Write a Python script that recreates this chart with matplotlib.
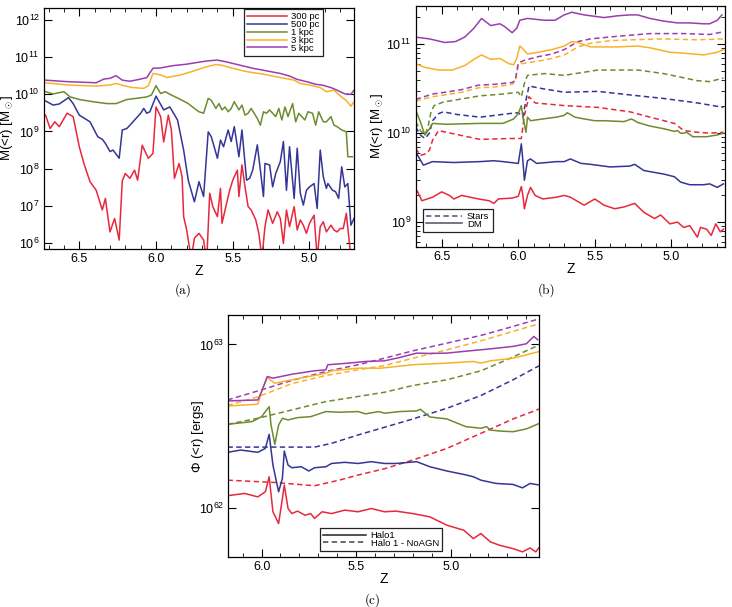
import numpy as np
import matplotlib
matplotlib.use('Agg')
import matplotlib.pyplot as plt
from matplotlib.ticker import MultipleLocator, FormatStrFormatter, LogLocator, NullLocator, LogFormatterMathtext
from matplotlib.lines import Line2D

plt.rcParams['font.family'] = ['Liberation Sans', 'DejaVu Sans']
plt.rcParams['mathtext.fontset'] = 'custom'
plt.rcParams['mathtext.rm'] = 'Liberation Sans'
plt.rcParams['mathtext.it'] = 'Liberation Sans:italic'
plt.rcParams['axes.linewidth'] = 0.9

RED = '#e8283c'
BLUE = '#353597'
GREEN = '#6e8b2e'
ORANGE = '#f8b22a'
PURPLE = '#9b3db0'
DASH = (0, (3.5, 2.2))
LW = 1.1

# ---------------- panel (a): log10 M(<r) vs z ----------------
a_z_5k = [6.72, 6.58, 6.39, 6.34, 6.30, 6.26, 6.22, 6.17, 6.10, 6.06, 6.02, 5.97, 5.89, 5.80, 5.71, 5.66,
          5.60, 5.54, 5.45, 5.37, 5.28, 5.19, 5.13, 5.08, 5.02, 4.96, 4.91, 4.86, 4.82, 4.77, 4.73, 4.71]
a_lm_5k = [10.38, 10.34, 10.31, 10.41, 10.43, 10.50, 10.38, 10.35, 10.41, 10.45, 10.70, 10.71, 10.77, 10.81,
           10.87, 10.90, 10.92, 10.87, 10.78, 10.70, 10.63, 10.56, 10.49, 10.40, 10.34, 10.27, 10.24, 10.18,
           10.11, 10.01, 10.00, 10.11]

a_z_3k = [6.72, 6.58, 6.39, 6.30, 6.26, 6.21, 6.15, 6.08, 6.05, 6.02, 5.97, 5.93, 5.84, 5.76, 5.67, 5.61,
          5.57, 5.50, 5.41, 5.30, 5.19, 5.10, 5.06, 5.00, 4.93, 4.89, 4.84, 4.80, 4.76, 4.73, 4.71]
a_lm_3k = [10.31, 10.25, 10.22, 10.25, 10.29, 10.23, 10.18, 10.16, 10.23, 10.56, 10.52, 10.45, 10.52, 10.62,
           10.74, 10.80, 10.78, 10.70, 10.61, 10.54, 10.45, 10.38, 10.29, 10.25, 10.18, 10.07, 10.11, 9.96,
           9.83, 9.68, 9.80]

a_z_1k = [6.72, 6.67, 6.60, 6.56, 6.50, 6.41, 6.32, 6.26, 6.19, 6.13, 6.06, 6.03, 6.00, 5.97, 5.94, 5.90,
          5.84, 5.79, 5.75, 5.72, 5.69, 5.66, 5.64, 5.61, 5.59, 5.57, 5.55, 5.53, 5.51, 5.49, 5.46, 5.44,
          5.42, 5.40, 5.38, 5.34, 5.32, 5.30, 5.28, 5.26, 5.22, 5.20, 5.18, 5.16, 5.14, 5.11, 5.09, 5.07,
          5.05, 5.03, 5.01, 4.98, 4.96, 4.94, 4.91, 4.89, 4.86, 4.84, 4.82, 4.79, 4.76, 4.75, 4.72]
a_lm_1k = [10.07, 10.01, 10.07, 9.93, 9.86, 9.80, 9.75, 9.75, 9.86, 9.89, 9.93, 9.98, 10.23, 10.02, 10.07,
           9.98, 9.86, 9.75, 9.62, 9.53, 9.49, 9.89, 9.84, 9.62, 9.75, 9.58, 9.66, 9.53, 9.62, 9.80, 9.58,
           9.71, 9.44, 9.49, 9.62, 9.35, 9.17, 9.53, 9.49, 9.58, 9.40, 9.62, 9.31, 9.66, 9.40, 9.75, 9.26,
           9.49, 9.40, 9.31, 9.53, 9.49, 9.17, 9.53, 9.26, 9.26, 9.40, 9.17, 9.13, 9.04, 8.99, 8.32, 8.32]

a_z_500 = [6.72, 6.67, 6.63, 6.57, 6.54, 6.50, 6.43, 6.38, 6.35, 6.33, 6.30, 6.28, 6.24, 6.22, 6.19, 6.15,
           6.10, 6.08, 6.06, 6.04, 6.00, 5.95, 5.91, 5.86, 5.82, 5.79, 5.75, 5.72, 5.69, 5.66, 5.64, 5.60,
           5.58, 5.56, 5.53, 5.51, 5.49, 5.46, 5.44, 5.41, 5.39, 5.37, 5.34, 5.32, 5.30, 5.29, 5.26, 5.24,
           5.22, 5.19, 5.17, 5.15, 5.13, 5.10, 5.08, 5.06, 5.04, 5.02, 5.00, 4.97, 4.95, 4.93, 4.91, 4.89,
           4.88, 4.85, 4.83, 4.81, 4.79, 4.77, 4.75, 4.73, 4.71]
a_lm_500 = [9.82, 9.71, 9.74, 9.91, 9.75, 9.44, 9.26, 8.86, 8.79, 8.68, 8.46, 8.50, 8.28, 9.04, 9.08, 9.26,
            9.49, 9.62, 9.49, 9.53, 9.95, 9.58, 9.66, 9.31, 8.50, 7.69, 7.11, 7.65, 7.25, 8.99, 8.86, 8.28,
            8.77, 8.59, 9.04, 8.73, 9.13, 8.32, 9.04, 7.69, 7.74, 7.96, 8.64, 7.96, 7.25, 8.14, 8.10, 7.51,
            7.87, 8.19, 8.73, 7.42, 8.59, 7.20, 8.55, 7.34, 7.02, 7.42, 7.51, 7.60, 6.93, 8.50, 7.78, 7.47,
            7.60, 7.42, 7.38, 7.20, 8.05, 7.51, 7.60, 6.48, 6.66]

a_z_300 = [6.72, 6.69, 6.66, 6.63, 6.58, 6.54, 6.50, 6.47, 6.43, 6.39, 6.35, 6.33, 6.30, 6.27, 6.24, 6.22,
           6.20, 6.17, 6.14, 6.12, 6.09, 6.05, 6.02, 6.00, 5.97, 5.95, 5.92, 5.90, 5.88, 5.85, 5.83, 5.82,
           5.80, 5.79, 5.77, 5.75, 5.72, 5.69, 5.67, 5.65, 5.63, 5.60, 5.58, 5.57, 5.54, 5.52, 5.50, 5.47,
           5.46, 5.44, 5.42, 5.40, 5.38, 5.35, 5.33, 5.31, 5.29, 5.27, 5.24, 5.21, 5.19, 5.17, 5.15, 5.13,
           5.10, 5.08, 5.06, 5.04, 5.02, 5.00, 4.97, 4.95, 4.93, 4.91, 4.89, 4.86, 4.84, 4.82, 4.80, 4.78,
           4.76, 4.73]
a_lm_300 = [9.44, 9.08, 9.26, 9.13, 9.49, 9.40, 8.59, 8.14, 7.65, 7.42, 6.89, 7.20, 6.30, 6.66, 6.08, 7.67,
            7.87, 7.74, 7.96, 7.69, 8.63, 8.28, 8.41, 9.66, 9.40, 8.72, 9.44, 9.04, 7.74, 8.14, 7.78, 6.71,
            6.35, 6.08, 5.60, 6.13, 6.26, 6.08, 5.50, 7.34, 6.98, 6.71, 7.47, 6.53, 7.07, 7.42, 7.69, 7.96,
            7.25, 8.10, 7.51, 6.98, 6.89, 6.62, 6.26, 5.60, 6.44, 6.89, 6.53, 6.84, 6.66, 5.99, 6.89, 6.44,
            6.98, 6.35, 6.62, 6.48, 6.26, 6.53, 6.75, 5.60, 6.44, 6.57, 6.30, 6.48, 6.35, 6.30, 6.39, 6.39,
            6.80, 5.60]

# ---------------- panel (b): log10 M(<r), DM (solid) and stars (dashed) ----------------
b_z_5k_dm = [6.67, 6.58, 6.48, 6.41, 6.35, 6.29, 6.24, 6.18, 6.12, 6.09, 6.04, 6.01, 5.99, 5.94, 5.83, 5.76,
             5.70, 5.65, 5.57, 5.44, 5.35, 5.27, 5.22, 5.14, 5.05, 4.96, 4.88, 4.79, 4.75, 4.70, 4.67]
b_lm_5k_dm = [11.08, 11.06, 11.02, 11.03, 11.08, 11.18, 11.29, 11.21, 11.23, 11.20, 11.13, 11.18, 11.27,
              11.29, 11.27, 11.27, 11.33, 11.36, 11.33, 11.30, 11.32, 11.33, 11.33, 11.29, 11.26, 11.24,
              11.24, 11.23, 11.23, 11.27, 11.33]

b_z_3k_dm = [6.67, 6.61, 6.52, 6.43, 6.35, 6.29, 6.24, 6.18, 6.12, 6.06, 6.03, 6.01, 5.99, 5.97, 5.94, 5.87,
             5.78, 5.70, 5.65, 5.61, 5.53, 5.44, 5.35, 5.22, 5.14, 5.01, 4.92, 4.79, 4.70, 4.66]
b_lm_3k_dm = [10.78, 10.74, 10.71, 10.71, 10.76, 10.83, 10.88, 10.83, 10.84, 10.78, 10.77, 10.84, 10.98,
              10.95, 10.89, 10.91, 10.94, 10.98, 11.03, 11.02, 10.97, 10.97, 10.97, 10.98, 10.96, 10.91,
              10.90, 10.88, 10.91, 10.94]

b_z_3k_st = [6.67, 6.56, 6.48, 6.37, 6.26, 6.15, 6.04, 6.02, 6.00, 5.98, 5.87, 5.78, 5.70, 5.61, 5.53, 5.40,
             5.27, 5.05, 4.83, 4.66]
b_lm_3k_st = [10.36, 10.41, 10.43, 10.46, 10.51, 10.52, 10.55, 10.58, 10.76, 10.78, 10.81, 10.84, 10.88,
              10.97, 11.01, 11.04, 11.05, 11.06, 11.05, 11.06]

b_z_5k_st = [6.67, 6.56, 6.48, 6.37, 6.26, 6.15, 6.04, 6.02, 6.00, 5.96, 5.87, 5.78, 5.70, 5.61, 5.53, 5.35,
             5.14, 4.92, 4.75, 4.66]
b_lm_5k_st = [10.38, 10.44, 10.46, 10.49, 10.54, 10.55, 10.57, 10.59, 10.79, 10.82, 10.86, 10.89, 10.94,
              11.03, 11.06, 11.09, 11.12, 11.12, 11.11, 11.14]

b_z_1k_st = [6.67, 6.64, 6.61, 6.59, 6.57, 6.55, 6.49, 6.25, 6.10, 6.00, 5.98, 5.96, 5.94, 5.83, 5.70, 5.48,
             5.22, 5.05, 4.83, 4.75, 4.66]
b_lm_1k_st = [10.13, 10.03, 9.98, 10.07, 10.24, 10.31, 10.35, 10.42, 10.44, 10.46, 10.41, 10.56, 10.65,
              10.67, 10.65, 10.71, 10.71, 10.67, 10.59, 10.58, 10.62]

b_z_500_st = [6.67, 6.64, 6.61, 6.58, 6.56, 6.52, 6.49, 6.40, 6.25, 6.06, 6.00, 5.97, 5.95, 5.93, 5.84, 5.70,
              5.48, 5.27, 5.05, 4.83, 4.66]
b_lm_500_st = [10.07, 9.98, 9.94, 10.00, 10.14, 10.22, 10.24, 10.21, 10.18, 10.22, 10.23, 10.18, 10.37,
               10.53, 10.50, 10.46, 10.47, 10.43, 10.39, 10.34, 10.29]

b_z_300_st = [6.67, 6.64, 6.60, 6.58, 6.56, 6.52, 6.47, 6.25, 6.06, 5.98, 5.96, 5.93, 5.89, 5.70, 5.48, 5.27,
              5.14, 4.98, 4.92, 4.83, 4.75, 4.66]
b_lm_300_st = [9.83, 9.75, 9.77, 9.81, 9.92, 10.03, 10.01, 9.93, 9.94, 9.94, 10.20, 10.41, 10.34, 10.31,
               10.29, 10.24, 10.18, 10.11, 10.03, 10.01, 10.00, 10.01]

b_z_1k_dm = [6.67, 6.64, 6.61, 6.58, 6.56, 6.47, 6.25, 6.10, 6.03, 6.00, 5.98, 5.97, 5.95, 5.94, 5.92, 5.84,
             5.75, 5.70, 5.68, 5.63, 5.57, 5.50, 5.44, 5.31, 5.26, 5.22, 5.14, 5.05, 4.98, 4.96, 4.94, 4.92,
             4.90, 4.86, 4.83, 4.77, 4.70, 4.66]
b_lm_1k_dm = [10.26, 10.13, 9.98, 10.05, 10.11, 10.10, 10.11, 10.11, 10.16, 10.22, 10.31, 10.18, 10.01,
              10.18, 10.14, 10.16, 10.18, 10.20, 10.23, 10.18, 10.16, 10.14, 10.14, 10.13, 10.16, 10.12,
              10.08, 10.05, 10.02, 10.03, 10.00, 10.00, 10.01, 9.96, 9.96, 9.96, 9.98, 10.00]

b_z_500_dm = [6.67, 6.65, 6.62, 6.59, 6.56, 6.42, 6.25, 6.16, 6.10, 6.00, 5.98, 5.97, 5.96, 5.94, 5.92, 5.88,
              5.75, 5.70, 5.66, 5.59, 5.53, 5.40, 5.27, 5.24, 5.18, 5.05, 4.98, 4.94, 4.88, 4.79, 4.75, 4.70,
              4.66]
b_lm_500_dm = [9.79, 9.73, 9.64, 9.66, 9.68, 9.67, 9.68, 9.69, 9.68, 9.66, 9.88, 9.69, 9.47, 9.69, 9.71,
               9.66, 9.68, 9.68, 9.71, 9.66, 9.65, 9.62, 9.63, 9.65, 9.58, 9.54, 9.51, 9.45, 9.42, 9.42, 9.43,
               9.39, 9.43]

b_z_300_dm = [6.67, 6.66, 6.63, 6.56, 6.50, 6.45, 6.42, 6.37, 6.26, 6.19, 6.16, 6.13, 6.04, 6.00, 5.98, 5.97,
              5.96, 5.94, 5.92, 5.89, 5.84, 5.75, 5.70, 5.66, 5.57, 5.50, 5.44, 5.37, 5.31, 5.24, 5.18, 5.11,
              5.07, 5.01, 4.96, 4.92, 4.88, 4.83, 4.81, 4.77, 4.74, 4.71, 4.68, 4.66]
b_lm_300_dm = [9.32, 9.35, 9.24, 9.28, 9.34, 9.30, 9.26, 9.30, 9.26, 9.24, 9.21, 9.26, 9.27, 9.29, 9.40,
               9.30, 9.15, 9.30, 9.39, 9.30, 9.26, 9.28, 9.30, 9.28, 9.19, 9.26, 9.19, 9.15, 9.17, 9.21, 9.11,
               9.04, 9.08, 8.98, 9.00, 8.94, 8.96, 8.83, 8.94, 8.92, 8.85, 8.98, 8.89, 8.92]

# ---------------- panel (c): log10 Phi(<r), Halo1 (solid) and NoAGN (dashed) ----------------
c_z_5k = [6.18, 6.02, 6.00, 5.97, 5.94, 5.84, 5.72, 5.66, 5.65, 5.54, 5.45, 5.35, 5.27, 5.18, 5.11, 5.02,
          4.90, 4.79, 4.67, 4.60, 4.56, 4.54]
c_lp_5k = [62.655, 62.661, 62.712, 62.804, 62.794, 62.818, 62.839, 62.845, 62.876, 62.886, 62.896, 62.900,
           62.920, 62.947, 62.945, 62.947, 62.961, 62.973, 62.988, 63.004, 63.049, 63.029]
c_z_5k_na = [6.18, 6.02, 5.84, 5.66, 5.49, 5.35, 5.20, 5.02, 4.84, 4.67, 4.53]
c_lp_5k_na = [62.661, 62.716, 62.780, 62.835, 62.876, 62.916, 62.961, 63.008, 63.055, 63.110, 63.157]

c_z_3k = [6.18, 6.02, 6.00, 5.97, 5.93, 5.84, 5.66, 5.63, 5.49, 5.37, 5.20, 5.02, 4.88, 4.84, 4.79, 4.67, 4.53]
c_lp_3k = [62.624, 62.635, 62.712, 62.798, 62.763, 62.784, 62.824, 62.839, 62.855, 62.855, 62.876, 62.886,
           62.896, 62.886, 62.900, 62.916, 62.957]
c_z_3k_na = [6.18, 6.02, 5.84, 5.66, 5.49, 5.35, 5.20, 5.02, 4.84, 4.67, 4.53]
c_lp_3k_na = [62.627, 62.680, 62.761, 62.810, 62.845, 62.871, 62.916, 62.967, 63.022, 63.080, 63.127]

c_z_1k = [6.18, 6.05, 6.00, 5.96, 5.95, 5.93, 5.91, 5.89, 5.86, 5.81, 5.74, 5.66, 5.59, 5.49, 5.45, 5.38,
          5.35, 5.27, 5.18, 5.16, 5.11, 5.02, 4.92, 4.84, 4.81, 4.79, 4.74, 4.67, 4.60, 4.53]
c_lp_1k = [62.512, 62.529, 62.559, 62.620, 62.508, 62.390, 62.508, 62.549, 62.539, 62.553, 62.559, 62.590,
           62.586, 62.590, 62.576, 62.590, 62.580, 62.590, 62.594, 62.604, 62.557, 62.545, 62.498, 62.488,
           62.498, 62.477, 62.471, 62.467, 62.484, 62.518]
c_z_1k_na = [6.18, 6.02, 5.84, 5.66, 5.49, 5.35, 5.20, 5.02, 4.84, 4.70, 4.53]
c_lp_1k_na = [62.512, 62.549, 62.600, 62.651, 62.682, 62.708, 62.749, 62.784, 62.839, 62.908, 62.998]

c_z_500 = [6.18, 6.11, 6.02, 5.98, 5.96, 5.94, 5.91, 5.89, 5.88, 5.86, 5.84, 5.79, 5.75, 5.72, 5.66, 5.63,
           5.56, 5.49, 5.42, 5.35, 5.29, 5.18, 5.11, 5.02, 4.93, 4.88, 4.84, 4.76, 4.67, 4.62, 4.58, 4.53]
c_lp_500 = [62.341, 62.355, 62.341, 62.365, 62.451, 62.263, 62.100, 62.182, 62.349, 62.263, 62.247, 62.253,
            62.227, 62.247, 62.253, 62.273, 62.280, 62.273, 62.284, 62.273, 62.273, 62.284, 62.253, 62.227,
            62.206, 62.192, 62.171, 62.151, 62.145, 62.124, 62.151, 62.141]
c_z_500_na = [6.18, 5.72, 5.63, 5.49, 5.35, 5.20, 5.02, 4.84, 4.67, 4.53]
c_lp_500_na = [62.373, 62.373, 62.396, 62.447, 62.494, 62.545, 62.610, 62.688, 62.784, 62.871]

c_z_300 = [6.18, 6.09, 6.02, 5.98, 5.96, 5.94, 5.91, 5.89, 5.88, 5.86, 5.84, 5.81, 5.77, 5.74, 5.72, 5.68,
           5.63, 5.56, 5.49, 5.42, 5.35, 5.29, 5.20, 5.11, 5.02, 4.93, 4.88, 4.84, 4.79, 4.74, 4.67, 4.62,
           4.58, 4.55, 4.53]
c_lp_300 = [62.076, 62.090, 62.069, 62.100, 62.192, 61.978, 61.906, 62.059, 62.141, 61.998, 61.967, 61.982,
            61.957, 61.967, 61.937, 61.978, 61.967, 61.988, 61.978, 61.998, 61.978, 61.982, 61.967, 61.947,
            61.896, 61.865, 61.814, 61.845, 61.794, 61.773, 61.753, 61.733, 61.757, 61.733, 61.763]
c_z_300_na = [6.18, 5.93, 5.72, 5.59, 5.49, 5.35, 5.20, 5.02, 4.84, 4.67, 4.53]
c_lp_300_na = [62.171, 62.157, 62.137, 62.171, 62.202, 62.241, 62.294, 62.365, 62.457, 62.545, 62.606]

radius_labels = ['300 pc', '500 pc', '1 kpc', '3 kpc', '5 kpc']
radius_colors = [RED, BLUE, GREEN, ORANGE, PURPLE]


def style_axes(ax, xlim, ylim, minor_y):
    ax.set_yscale('log')
    ax.set_xlim(*xlim)
    ax.set_ylim(*ylim)
    ax.xaxis.set_major_locator(MultipleLocator(0.5))
    ax.xaxis.set_minor_locator(MultipleLocator(0.1))
    ax.xaxis.set_major_formatter(FormatStrFormatter('%.1f'))
    ax.yaxis.set_major_locator(LogLocator(base=10, numticks=30))
    ax.yaxis.set_major_formatter(LogFormatterMathtext())
    if minor_y:
        ax.yaxis.set_minor_locator(LogLocator(base=10, subs=np.arange(2, 10), numticks=30))
    else:
        ax.yaxis.set_minor_locator(NullLocator())
    ax.tick_params(which='both', direction='in', top=True, right=True, labelsize=9)
    ax.tick_params(which='major', length=6, width=0.8, pad=3)
    ax.tick_params(which='minor', length=3, width=0.6)
    ax.set_xlabel('Z', fontsize=10, labelpad=-1)


def small_legend(ax, handles, labels, loc, anchor, hlen):
    leg = ax.legend(handles, labels, loc=loc, bbox_to_anchor=anchor, fontsize=6.8, handlelength=hlen,
                    labelspacing=-0.12, borderaxespad=0, fancybox=False, framealpha=1,
                    edgecolor='#222222', borderpad=0.35, handletextpad=0.5)
    leg.get_frame().set_linewidth(0.9)


fig = plt.figure(figsize=(7.32, 6.07), dpi=100)
ax_a = fig.add_axes([0.0601, 0.5898, 0.4235, 0.3970])
ax_b = fig.add_axes([0.5679, 0.5931, 0.4225, 0.3970])
ax_c = fig.add_axes([0.3119, 0.0819, 0.4249, 0.3992])

# panel (a)
a_series = [(a_z_300, a_lm_300), (a_z_500, a_lm_500), (a_z_1k, a_lm_1k), (a_z_3k, a_lm_3k), (a_z_5k, a_lm_5k)]
ha = []
for (zz, lm), col in zip(a_series, radius_colors):
    ha += ax_a.plot(zz, 10 ** np.array(lm), color=col, lw=LW)
style_axes(ax_a, (6.73, 4.71), (10 ** 5.84, 10 ** 12.32), False)
ax_a.set_ylabel(r'M(<r) [M$_\odot$]', fontsize=9.5)
ax_a.yaxis.set_label_coords(-0.095, 0.5)
small_legend(ax_a, ha, radius_labels, 'upper right', (0.9, 0.996), 4.2)

# panel (b)
b_dm = [(b_z_300_dm, b_lm_300_dm), (b_z_500_dm, b_lm_500_dm), (b_z_1k_dm, b_lm_1k_dm),
        (b_z_3k_dm, b_lm_3k_dm), (b_z_5k_dm, b_lm_5k_dm)]
b_st = [(b_z_300_st, b_lm_300_st), (b_z_500_st, b_lm_500_st), (b_z_1k_st, b_lm_1k_st),
        (b_z_3k_st, b_lm_3k_st), (b_z_5k_st, b_lm_5k_st)]
for (zz, lm), col in zip(b_st, radius_colors):
    ax_b.plot(zz, 10 ** np.array(lm), color=col, lw=LW, linestyle=DASH)
for (zz, lm), col in zip(b_dm, radius_colors):
    ax_b.plot(zz, 10 ** np.array(lm), color=col, lw=LW)
style_axes(ax_b, (6.67, 4.65), (10 ** 8.72, 10 ** 11.43), True)
ax_b.set_ylabel(r'M(<r) [M$_\odot$]', fontsize=9.5)
ax_b.yaxis.set_label_coords(-0.100, 0.5)
hb = [Line2D([], [], color='#505068', lw=LW, linestyle=DASH), Line2D([], [], color='#505068', lw=LW)]
small_legend(ax_b, hb, ['Stars', 'DM'], 'lower left', (0.024, 0.062), 3.8)

# panel (c)
c_h1 = [(c_z_300, c_lp_300), (c_z_500, c_lp_500), (c_z_1k, c_lp_1k), (c_z_3k, c_lp_3k), (c_z_5k, c_lp_5k)]
c_na = [(c_z_300_na, c_lp_300_na), (c_z_500_na, c_lp_500_na), (c_z_1k_na, c_lp_1k_na),
        (c_z_3k_na, c_lp_3k_na), (c_z_5k_na, c_lp_5k_na)]
for (zz, lp), col in zip(c_na, radius_colors):
    ax_c.plot(zz, 10 ** np.array(lp), color=col, lw=LW, linestyle=DASH)
for (zz, lp), col in zip(c_h1, radius_colors):
    ax_c.plot(zz, 10 ** np.array(lp), color=col, lw=LW)
style_axes(ax_c, (6.176, 4.531), (10 ** 61.70, 10 ** 63.18), False)
ax_c.set_ylabel(r'$\Phi$ (<r) [ergs]', fontsize=9.5)
ax_c.yaxis.set_label_coords(-0.072, 0.5)
hc = [Line2D([], [], color='#222222', lw=LW), Line2D([], [], color='#444444', lw=LW, linestyle=DASH)]
small_legend(ax_c, hc, ['Halo1', 'Halo 1 - NoAGN'], 'lower left', (0.295, 0.026), 4.5)

# sub-figure captions
for x, y, t in [(183, 290, '(a)'), (547, 290, '(b)'), (373, 600, '(c)')]:
    fig.text(x / 732, 1 - y / 607, t, fontsize=9.5, family='cmr10', ha='center', va='center')

fig.savefig('out.png', dpi=100)
